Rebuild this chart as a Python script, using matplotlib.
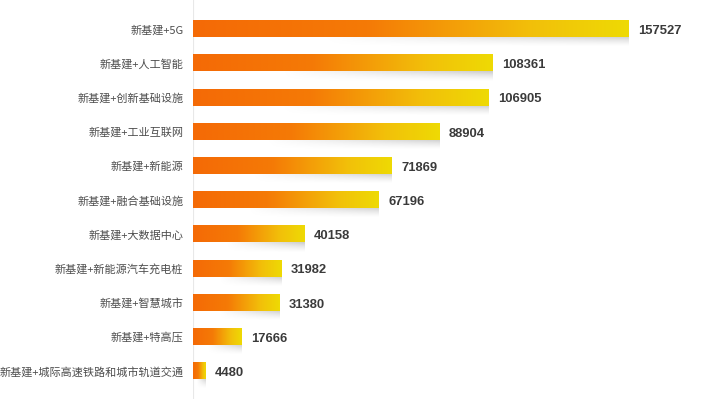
import numpy as np
import matplotlib.pyplot as plt
from matplotlib.colors import LinearSegmentedColormap

plt.rcParams['font.family'] = ['Noto Sans CJK SC', 'DejaVu Sans']

# --- data ---
categories = ['新基建+5G', '新基建+人工智能', '新基建+创新基础设施', '新基建+工业互联网',
              '新基建+新能源', '新基建+融合基础设施', '新基建+大数据中心',
              '新基建+新能源汽车充电桩', '新基建+智慧城市', '新基建+特高压',
              '新基建+城际高速铁路和城市轨道交通']
values = [157527, 108361, 106905, 88904, 71869, 67196, 40158, 31982, 31380, 17666, 4480]

bar_cmap = LinearSegmentedColormap.from_list(
    'oy', [(0.0, '#F46A06'), (0.4, '#F57A06'), (0.78, '#F2C00A'), (1.0, '#EEDA04')])

fig = plt.figure(figsize=(7.22, 3.99), dpi=100)
ax = fig.add_axes([193 / 722, 0, 1 - 193 / 722, 1])

h = 0.48
grad = np.linspace(0, 1, 256).reshape(1, -1)
for i, v in enumerate(values):
    # gradient bar
    ax.imshow(grad, cmap=bar_cmap, extent=(0, v, i + h / 2, i - h / 2),
              aspect='auto', interpolation='bicubic', zorder=3)
    # soft grey shadow under the right part of the bar
    sh = np.zeros((20, 256, 4))
    sh[..., :3] = 0.55
    xa = np.clip((np.linspace(0, 1, 256) - 0.3) / 0.7, 0, 1)
    ya = np.linspace(1, 0, 20) ** 1.5
    sh[..., 3] = 0.45 * np.outer(ya, xa)
    ax.imshow(sh, extent=(0, v, i + h / 2 + 0.3, i + h / 2), aspect='auto',
              interpolation='bilinear', zorder=2)
    ax.text(v + 3300, i + 0.06, str(v), va='center', ha='left', fontsize=9.4,
            fontweight='bold', color='#3a3a3a',
            family=['Liberation Sans', 'DejaVu Sans'])
    ax.text(-3500, i + 0.03, categories[i], va='center', ha='right', fontsize=8.0,
            color='#4d4d4d')

ax.axvline(0, color='#e8e8e8', lw=0.8, zorder=1)
ax.set_xlim(0, 529 / (436 / 157527))
ax.set_ylim(10 + 28 / 34.2, -29 / 34.2)
ax.axis('off')

fig.savefig('out.png', dpi=100)
